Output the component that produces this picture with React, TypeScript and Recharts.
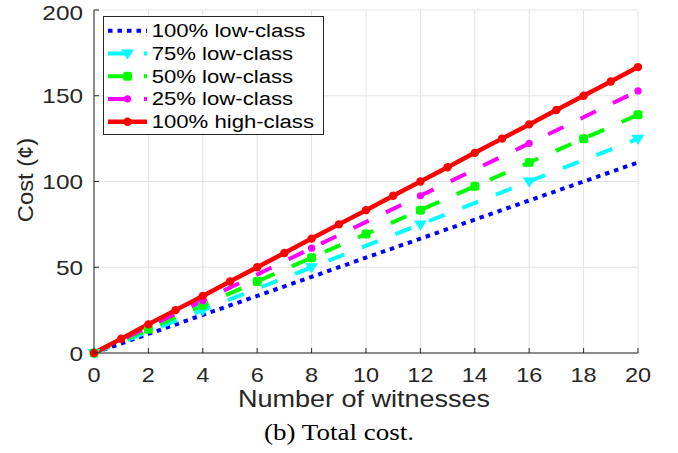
import React from 'react';
import { LineChart, Line, XAxis, YAxis, CartesianGrid, Legend, Label } from 'recharts';

// number of witnesses (x axis)
const witnesses = [0, 1, 2, 3, 4, 5, 6, 7, 8, 9, 10, 11, 12, 13, 14, 15, 16, 17, 18, 19, 20];

// cost per series, null where the curve has no marker
const low100 = [0, null, 11.1, null, 22.2, null, 33.3, null, 44.4, null, 55.6, null, 66.7, null, 77.8, null, 88.9, null, 100, null, 111.1];
const low75 = [0, null, null, null, 25, null, null, null, 50, null, null, null, 75, null, null, null, 100, null, null, null, 125];
const low50 = [0, null, 13.9, null, 27.8, null, 41.7, null, 55.6, null, 69.4, null, 83.3, null, 97.2, null, 111.1, null, 125, null, 138.9];
const low25 = [0, null, null, null, 30.5, null, null, null, 61.1, null, null, null, 91.7, null, null, null, 122.2, null, null, null, 152.8];
const high100 = [0, 8.3, 16.7, 25, 33.3, 41.7, 50, 58.3, 66.7, 75, 83.3, 91.7, 100, 108.3, 116.7, 125, 133.3, 141.7, 150, 158.3, 166.7];

const xTicks = [0, 2, 4, 6, 8, 10, 12, 14, 16, 18, 20];
const yTicks = [0, 50, 100, 150, 200];

const data = witnesses.map((w, i) => ({
  x: w,
  low100: low100[i],
  low75: low75[i],
  low50: low50[i],
  low25: low25[i],
  high100: high100[i],
}));

type MarkerKind = 'none' | 'triangle' | 'square' | 'circle' | 'small';

const series: { key: string; name: string; color: string; width: number; dash?: string; marker: MarkerKind }[] = [
  { key: 'low100', name: '100% low-class', color: '#0000ff', width: 4, dash: '4.5 5', marker: 'none' },
  { key: 'low75', name: '75% low-class', color: '#00ffff', width: 4, dash: '17 19', marker: 'triangle' },
  { key: 'low50', name: '50% low-class', color: '#00ff00', width: 4, dash: '17 19', marker: 'square' },
  { key: 'low25', name: '25% low-class', color: '#ff00ff', width: 4, dash: '17 19', marker: 'small' },
  { key: 'high100', name: '100% high-class', color: '#ff0000', width: 4.5, marker: 'circle' },
];

const AXIS = '#262626';
const FONT = '"Liberation Sans", Arial, Helvetica, sans-serif';

const drawMarker = (kind: MarkerKind, cx: number, cy: number, color: string, key?: string | number) => {
  switch (kind) {
    case 'triangle':
      return <polygon key={key} points={`${cx - 6.5},${cy - 4} ${cx + 6.5},${cy - 4} ${cx},${cy + 6}`} fill={color} />;
    case 'square':
      return <rect key={key} x={cx - 4.5} y={cy - 4.5} width={9} height={9} rx={2.5} fill={color} />;
    case 'circle':
      return <circle key={key} cx={cx} cy={cy} r={4.2} fill={color} />;
    case 'small':
      return <circle key={key} cx={cx} cy={cy} r={3.6} fill={color} />;
    default:
      return <g key={key} />;
  }
};

const makeDot = (kind: MarkerKind, color: string) => (props: any) => {
  const { cx, cy, value, index } = props;
  if (cx == null || cy == null || value == null) return <g key={`e-${index}`} />;
  return drawMarker(kind, cx, cy, color, `d-${index}`);
};

const BottomTick = (props: any) => {
  const { x, y, payload } = props;
  return (
    <g>
      <line x1={x} x2={x} y1={y} y2={y - 5} stroke={AXIS} />
      <text
        transform={`translate(${x},${y + 29}) scale(1.12,1)`}
        textAnchor="middle"
        fontSize={21}
        fontFamily={FONT}
        fill={AXIS}
      >
        {payload.value}
      </text>
    </g>
  );
};

const LeftTick = (props: any) => {
  const { x, y, payload } = props;
  // keep the top label inside the picture
  const baseline = Math.max(y + 7.5, 19.5);
  return (
    <g>
      <line x1={x} x2={x + 5} y1={y} y2={y} stroke={AXIS} />
      <text
        transform={`translate(${x - 11},${baseline}) scale(1.16,1)`}
        textAnchor="end"
        fontSize={21}
        fontFamily={FONT}
        fill={AXIS}
      >
        {payload.value}
      </text>
    </g>
  );
};

const TopTick = (props: any) => {
  const { x, y } = props;
  return <line x1={x} x2={x} y1={y} y2={y + 5} stroke={AXIS} />;
};

const RightTick = (props: any) => {
  const { x, y } = props;
  return <line x1={x} x2={x - 5} y1={y} y2={y} stroke={AXIS} />;
};

const renderLegend = () => (
  <svg width={221} height={119} style={{ display: 'block' }}>
    <rect x={0.5} y={0.5} width={220} height={118} fill="#fff" stroke={AXIS} />
    {series.map((s, i) => {
      const cy = 14.7 + 22.75 * i;
      return (
        <g key={s.key}>
          <line x1={5} x2={44} y1={cy} y2={cy} stroke={s.color} strokeWidth={s.width} strokeDasharray={s.dash} />
          {drawMarker(s.marker, 24.5, cy, s.color)}
          <text
            transform={`translate(48.7,${cy + 6.5}) scale(1.23,1)`}
            fontSize={18}
            fontFamily={FONT}
            fill="#000"
          >
            {s.name}
          </text>
        </g>
      );
    })}
  </svg>
);

export default function App() {
  return (
    <div style={{ position: 'absolute', left: 0, top: 0, width: 678, height: 453, background: '#fff' }}>
      <LineChart width={678} height={453} data={data} margin={{ top: 10, right: 40, bottom: 70, left: 34 }}>
        <CartesianGrid stroke="#e3e3e3" strokeWidth={1} />
        <XAxis
          dataKey="x"
          type="number"
          domain={[0, 20]}
          ticks={xTicks}
          height={30}
          tickSize={0}
          tickMargin={0}
          tick={<BottomTick />}
          axisLine={{ stroke: AXIS }}
          tickLine={false}
        >
          <Label
            content={() => (
              <text
                transform="translate(364,406.5) scale(1.15,1)"
                textAnchor="middle"
                fontSize={23.5}
                fontFamily={FONT}
                fill={AXIS}
              >
                Number of witnesses
              </text>
            )}
          />
        </XAxis>
        <XAxis
          xAxisId="top"
          orientation="top"
          dataKey="x"
          type="number"
          domain={[0, 20]}
          ticks={xTicks}
          height={0}
          tickSize={0}
          tickMargin={0}
          tick={<TopTick />}
          axisLine={{ stroke: AXIS }}
          tickLine={false}
        />
        <YAxis
          type="number"
          domain={[0, 200]}
          ticks={yTicks}
          width={60}
          tickSize={0}
          tickMargin={0}
          tick={<LeftTick />}
          axisLine={{ stroke: AXIS }}
          tickLine={false}
        >
          <Label
            content={() => (
              <text
                transform="translate(32.5,180) rotate(-90) scale(1.08,1)"
                textAnchor="middle"
                fontSize={22}
                fontFamily={FONT}
                fill={AXIS}
              >
                Cost (¢)
              </text>
            )}
          />
        </YAxis>
        <YAxis
          yAxisId="right"
          orientation="right"
          type="number"
          domain={[0, 200]}
          ticks={yTicks}
          width={0}
          tickSize={0}
          tickMargin={0}
          tick={<RightTick />}
          axisLine={{ stroke: AXIS }}
          tickLine={false}
        />
        <Legend
          layout="vertical"
          align="center"
          verticalAlign="middle"
          content={renderLegend}
          wrapperStyle={{ left: 103, top: 16, width: 221, height: 119 }}
        />
        {series.map((s) => (
          <Line
            key={s.key}
            dataKey={s.key}
            name={s.name}
            stroke={s.color}
            strokeWidth={s.width}
            strokeDasharray={s.dash}
            connectNulls
            dot={s.marker === 'none' ? false : makeDot(s.marker, s.color)}
            activeDot={false}
            isAnimationActive={false}
          />
        ))}
      </LineChart>
      <svg width={678} height={453} style={{ position: 'absolute', left: 0, top: 0, pointerEvents: 'none' }}>
        <text
          x={339}
          y={440}
          textAnchor="middle"
          fontSize={23}
          fontFamily='"Liberation Serif", "Times New Roman", serif'
          textLength={150}
          lengthAdjust="spacingAndGlyphs"
          fill="#000"
        >
          (b) Total cost.
        </text>
      </svg>
    </div>
  );
}
